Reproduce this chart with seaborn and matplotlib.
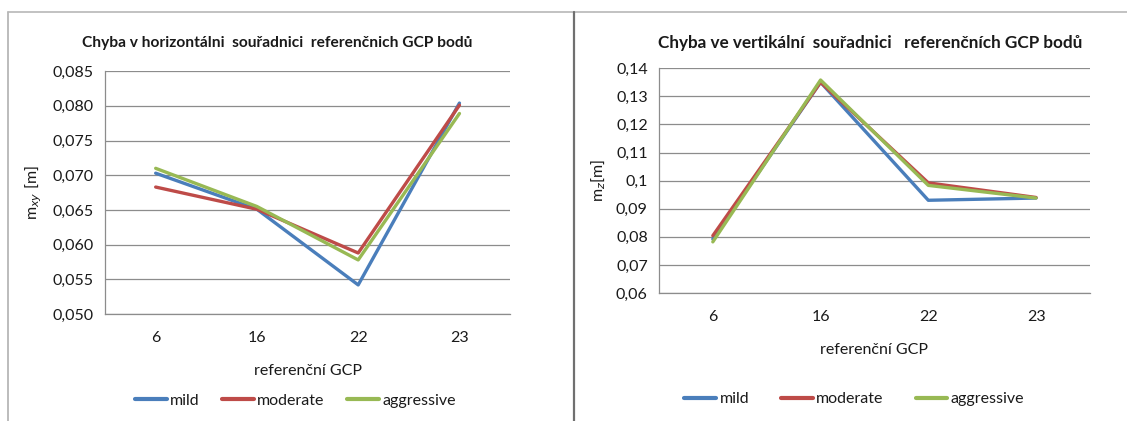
#!/usr/bin/env python3
"""
GCP error charts: horizontal and vertical coordinate error per reference point.
"""

import matplotlib

matplotlib.use("Agg")
import matplotlib.pyplot as plt
import pandas as pd
import seaborn as sns
from matplotlib.lines import Line2D

GCP = ["6", "16", "22", "23"]
SERIES = ["mild", "moderate", "aggressive"]
COLORS = ["#4A7EBB", "#BE4B48", "#98B954"]

# horizontal error m_xy [m]
MXY_MILD = [0.0703, 0.0651, 0.0542, 0.0804]
MXY_MODERATE = [0.0683, 0.0651, 0.0588, 0.0801]
MXY_AGGRESSIVE = [0.0710, 0.0655, 0.0578, 0.0789]

# vertical error m_z [m]
MZ_MILD = [0.0792, 0.1350, 0.0930, 0.0938]
MZ_MODERATE = [0.0804, 0.1350, 0.0992, 0.0940]
MZ_AGGRESSIVE = [0.0782, 0.1358, 0.0983, 0.0938]

LEFT_TICKS = [0.050, 0.055, 0.060, 0.065, 0.070, 0.075, 0.080, 0.085]
LEFT_TICKLABELS = ["0,050", "0,055", "0,060", "0,065", "0,070", "0,075", "0,080", "0,085"]
RIGHT_TICKS = [0.06, 0.07, 0.08, 0.09, 0.10, 0.11, 0.12, 0.13, 0.14]
RIGHT_TICKLABELS = ["0,06", "0,07", "0,08", "0,09", "0,1", "0,11", "0,12", "0,13", "0,14"]

TITLE_LEFT = "Chyba v horizontálni  souřadnici  referenčnich GCP bodů"
TITLE_RIGHT = "Chyba ve vertikální  souřadnici   referenčních GCP bodů"


def long_frame(values):
    rows = []
    for name, vals in zip(SERIES, values):
        for g, v in zip(GCP, vals):
            rows.append({"gcp": g, "series": name, "value": v})
    return pd.DataFrame(rows)


def style_axis(ax, ticks, labels, ylabel):
    ax.set_xlim(-0.5, 3.5)
    ax.set_ylim(ticks[0], ticks[-1])
    ax.set_yticks(ticks)
    ax.set_yticklabels(labels)
    ax.set_xticks(range(len(GCP)))
    ax.set_xticklabels(GCP)
    ax.set_xticks([-0.5, 0.5, 1.5, 2.5, 3.5], minor=True)
    ax.tick_params(axis="x", which="major", length=0, pad=12, labelsize=11.5)
    ax.tick_params(axis="x", which="minor", length=5, color="#888888", width=0.8)
    ax.tick_params(axis="y", length=5, color="#888888", width=0.8, labelsize=11.5, pad=3)
    ax.grid(axis="y", color="#8c8c8c", linewidth=0.9)
    ax.grid(axis="x", visible=False)
    for side in ("top", "right"):
        ax.spines[side].set_visible(False)
    for side in ("left", "bottom"):
        ax.spines[side].set_color("#8c8c8c")
        ax.spines[side].set_linewidth(0.9)
    ax.set_xlabel("referenční GCP", fontsize=11.5, labelpad=14)
    ax.set_ylabel(ylabel, fontsize=11.5, labelpad=6)
    ax.set_axisbelow(True)


def main() -> None:
    sns.set_theme(style="white")
    plt.rcParams["font.family"] = ["Lato", "DejaVu Sans"]
    plt.rcParams["text.color"] = "#1a1a1a"
    plt.rcParams["xtick.color"] = "#1a1a1a"
    plt.rcParams["ytick.color"] = "#1a1a1a"
    plt.rcParams["axes.labelcolor"] = "#1a1a1a"

    fig = plt.figure(figsize=(11.27, 4.21), dpi=100)
    ax1 = fig.add_axes([0.0932, 0.254, 0.3594, 0.577])
    ax2 = fig.add_axes([0.5847, 0.304, 0.3824, 0.534])

    left_df = long_frame([MXY_MILD, MXY_MODERATE, MXY_AGGRESSIVE])
    right_df = long_frame([MZ_MILD, MZ_MODERATE, MZ_AGGRESSIVE])
    palette = dict(zip(SERIES, COLORS))

    for ax, df in ((ax1, left_df), (ax2, right_df)):
        sns.lineplot(
            data=df, x="gcp", y="value", hue="series", hue_order=SERIES,
            palette=palette, linewidth=2.4, ax=ax, legend=False, sort=False,
        )

    style_axis(ax1, LEFT_TICKS, LEFT_TICKLABELS, r"m$_{xy}$ [m]")
    style_axis(ax2, RIGHT_TICKS, RIGHT_TICKLABELS, r"m$_{z}$[m]")

    # titles centred over the chart areas as in the reference
    fig.text(277 / 1127, 1 - 43 / 421, TITLE_LEFT, fontsize=11.2,
             fontweight="bold", ha="center", va="center")
    fig.text(870 / 1127, 1 - 43 / 421, TITLE_RIGHT, fontsize=12.3,
             fontweight="bold", ha="center", va="center")

    handles = [Line2D([0], [0], color=c, linewidth=3.0) for c in COLORS]
    fig.legend(handles, SERIES, loc="center", bbox_to_anchor=(0.262, 0.048),
               ncol=3, frameon=False, fontsize=11.5, handlelength=2.0,
               handletextpad=0.2, columnspacing=1.4)
    fig.legend(handles, SERIES, loc="center", bbox_to_anchor=(0.758, 0.052),
               ncol=3, frameon=False, fontsize=11.5, handlelength=2.0,
               handletextpad=0.2, columnspacing=2.0)

    # chart frames
    fig.add_artist(Line2D([8 / 1127, 8 / 1127], [0, 1 - 12 / 421],
                          transform=fig.transFigure, color="#b0b0b0", linewidth=1.2))
    fig.add_artist(Line2D([8 / 1127, 1], [1 - 12 / 421, 1 - 12 / 421],
                          transform=fig.transFigure, color="#b8b8b8", linewidth=1.2))
    fig.add_artist(Line2D([574 / 1127, 574 / 1127], [0, 1 - 12 / 421],
                          transform=fig.transFigure, color="#707070", linewidth=1.6))

    fig.savefig("out.png", dpi=100)
    plt.close(fig)


if __name__ == "__main__":
    main()
